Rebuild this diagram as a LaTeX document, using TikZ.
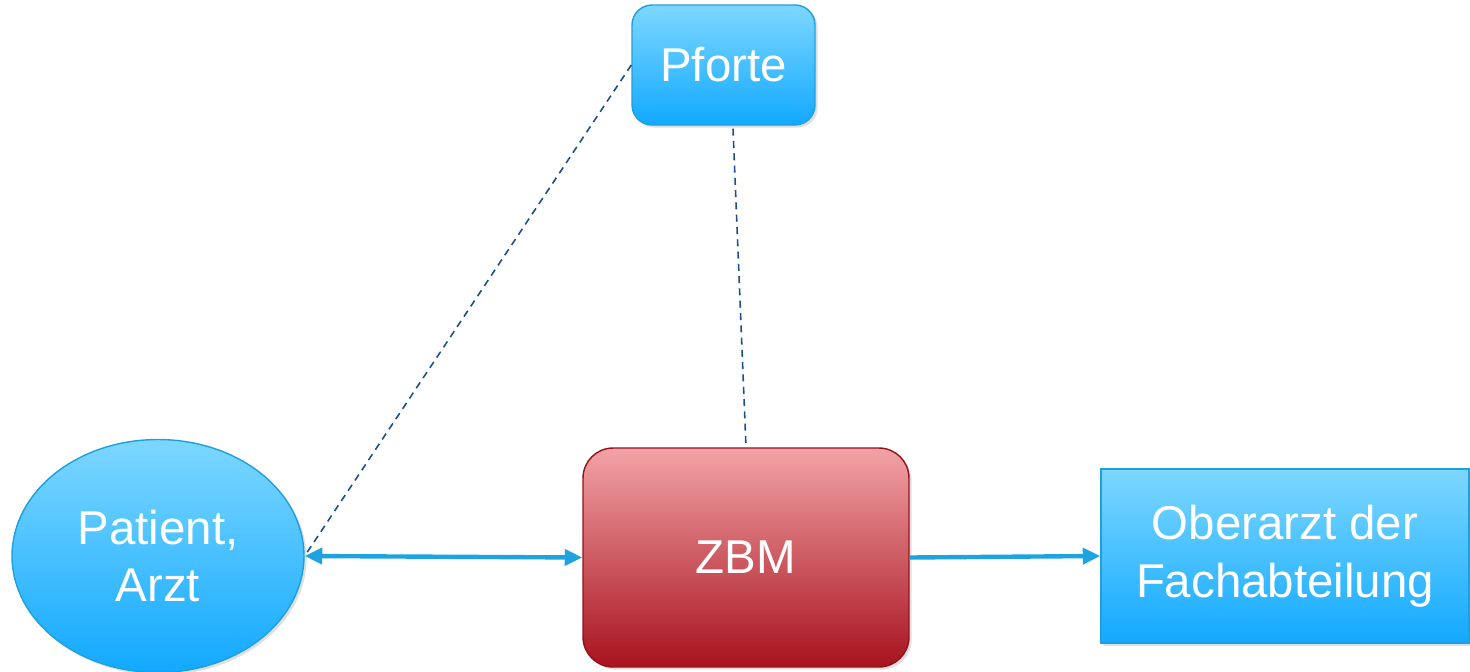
\documentclass[tikz,border=0pt]{standalone}
\usepackage{fontspec}
\setmainfont{Liberation Sans}
\usetikzlibrary{shapes.geometric,arrows.meta,shadows}
\definecolor{bluetop}{HTML}{7DD7FF}
\definecolor{bluebot}{HTML}{12A9FF}
\definecolor{blueedge}{HTML}{1E9FDF}
\definecolor{redtop}{HTML}{F2A3A6}
\definecolor{redbot}{HTML}{A8131F}
\definecolor{rededge}{HTML}{95101B}
\definecolor{arrowblue}{HTML}{1DA3E0}
\definecolor{dashblue}{HTML}{1A4F8A}
\tikzset{
  lbl/.style={text=white, font=\fontsize{27}{33}\selectfont, align=center},
  bluebox/.style={lbl, draw=blueedge, line width=0.8pt, top color=bluetop, bottom color=bluebot,
    inner sep=0pt, drop shadow={opacity=0.25, shadow xshift=1.5pt, shadow yshift=-1.5pt}},
  redbox/.style={lbl, draw=rededge, line width=0.8pt, top color=redtop, bottom color=redbot,
    inner sep=0pt, rounded corners=0.6cm, drop shadow={opacity=0.25, shadow xshift=1.5pt, shadow yshift=-1.5pt}},
  flow/.style={draw=arrowblue, line width=2.5pt, -{Triangle[length=10pt,width=9pt]}},
  twoway/.style={draw=arrowblue, line width=2.5pt, {Triangle[length=10pt,width=9pt]}-{Triangle[length=10pt,width=9pt]}},
  link/.style={draw=dashblue, line width=0.9pt, dashed, dash pattern=on 4pt off 3pt},
}
\begin{document}
\begin{tikzpicture}[x=0.02cm, y=-0.02cm]
\useasboundingbox (0,0) rectangle (1470,672);
\node[bluebox, rounded corners=0.4cm, minimum width=3.66cm, minimum height=2.4cm] (pforte) at (723.5,65) {\raisebox{-2pt}{Pforte}};
\node[bluebox, ellipse, minimum width=5.84cm, minimum height=4.66cm] (patient) at (158,556) {Patient,\\Arzt};
\node[redbox, minimum width=6.52cm, minimum height=4.38cm] (zbm) at (746,557.5) {\raisebox{-2pt}{ZBM}};
\node[bluebox, minimum width=7.36cm, minimum height=3.48cm] (ober) at (1285,556) {Oberarzt der\\Fachabteilung};
\draw[link] (pforte.west) -- (patient.east);
\draw[link] ([xshift=0.19cm,yshift=-0.06cm]pforte.south) -- (zbm.north);
\draw[twoway] (patient.east) -- (zbm.west);
\draw[flow] (zbm.east) -- (ober.west);
\end{tikzpicture}
\end{document}
